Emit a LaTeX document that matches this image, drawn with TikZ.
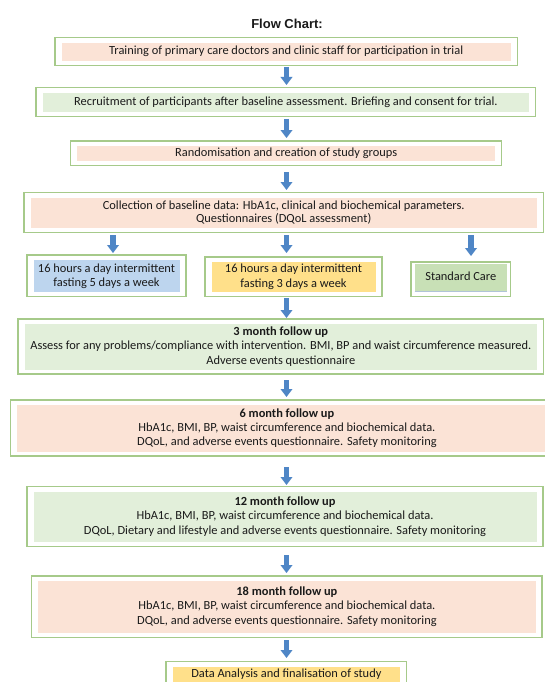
\documentclass[tikz,border=0pt]{standalone}
\usepackage{fontspec}
\setmainfont{Carlito}
\newfontfamily\titlefont{Liberation Sans}
\usetikzlibrary{arrows.meta}
\definecolor{outl}{HTML}{A6CA8A}
\definecolor{salmon}{HTML}{FBE3D6}
\definecolor{greenf}{HTML}{E2EFDA}
\definecolor{bluef}{HTML}{BDD5EE}
\definecolor{yellowf}{HTML}{FFE08A}
\definecolor{greenf2}{HTML}{C8E0B6}
\definecolor{arrowc}{HTML}{4F86C6}
\definecolor{txt}{HTML}{1A1A1A}
\tikzset{
  box/.style={draw=outl, line width=1.3pt, fill=white, inner sep=0pt, outer sep=0pt,
    align=center, text=txt, font=\fontsize{12.4}{14.2}\selectfont},
  inset/.style={path picture={\fill[#1] ([shift={(6.5pt,-5pt)}]path picture bounding box.north west) rectangle ([shift={(-6.5pt,4.5pt)}]path picture bounding box.south east);}},
  barrow/.style={draw=arrowc, line width=5.5pt, -{Triangle[width=11.5pt,length=8pt,fill=arrowc]}},
}
\begin{document}
\begin{tikzpicture}[x=1pt,y=-1pt]
\useasboundingbox (0,0) rectangle (544,682);
\fill[white] (0,0) rectangle (544,682);
\node[font=\titlefont\bfseries\fontsize{13}{15}\selectfont, text=txt] (title) at (287,24) {Flow Chart:};

\node[box, inset=salmon, minimum width=462.3pt, minimum height=28pt] (b1) at (286.2,51.7)
  {Training of primary care doctors and clinic staff for participation in trial};
\node[box, inset=greenf, minimum width=499.7pt, minimum height=29pt] (b2) at (285.9,102.2)
  {Recruitment of participants after baseline assessment. Briefing and consent for trial.};
\node[box, inset=salmon, minimum width=431pt, minimum height=24.7pt] (b3) at (286.2,153.4)
  {Randomisation and creation of study groups};
\node[box, inset=salmon, minimum width=519.3pt, minimum height=40pt, font=\fontsize{12.4}{13.5}\selectfont] (b4) at (283.7,212.7)
  {Collection of baseline data: HbA1c, clinical and biochemical parameters.\\ Questionnaires (DQoL assessment)};
\node[box, inset=bluef, minimum width=159pt, minimum height=41.7pt] (b5a) at (106.5,275.9)
  {16 hours a day intermittent\\ fasting 5 days a week};
\node[box, inset=yellowf, minimum width=177pt, minimum height=39.5pt] (b5b) at (293.5,276.8)
  {16 hours a day intermittent\\ fasting 3 days a week};
\node[box, minimum width=99.5pt, minimum height=34.5pt, text depth=6pt,
  path picture={\fill[greenf2] ([shift={(3.5pt,-1.5pt)}]path picture bounding box.north west) rectangle ([shift={(-3.5pt,4.5pt)}]path picture bounding box.south east);
  \draw[line width=0.8pt, color=bluef!80!gray] ([shift={(3.5pt,4.8pt)}]path picture bounding box.south west) -- ([shift={(-3.5pt,4.8pt)}]path picture bounding box.south east);}] (b5c) at (460.8,279.3)
  {Standard Care};
\node[box, inset=greenf, minimum width=525.5pt, minimum height=55pt] (b6) at (280.8,346.5)
  {\textbf{3 month follow up}\\ Assess for any problems/compliance with intervention. BMI, BP and waist circumference measured.\\ Adverse events questionnaire};
\node[box, inset=salmon, minimum width=552.3pt, minimum height=56pt] (b7) at (286.9,428)
  {\textbf{6 month follow up}\\ HbA1c, BMI, BP, waist circumference and biochemical data.\\ DQoL, and adverse events questionnaire. Safety monitoring};
\node[box, inset=greenf, minimum width=516pt, minimum height=60pt] (b8) at (285,516.7)
  {\textbf{12 month follow up}\\ HbA1c, BMI, BP, waist circumference and biochemical data.\\ DQoL, Dietary and lifestyle and adverse events questionnaire. Safety monitoring};
\node[box, inset=salmon, minimum width=510.3pt, minimum height=61.3pt] (b9) at (286.9,606.7)
  {\textbf{18 month follow up}\\ HbA1c, BMI, BP, waist circumference and biochemical data.\\ DQoL, and adverse events questionnaire. Safety monitoring};
\node[box, inset=yellowf, minimum width=240.7pt, minimum height=25pt] (b10) at (286.4,674.2)
  {Data Analysis and finalisation of study};

\coordinate (xc) at (286.5,0);
\coordinate (xl) at (113,0);
\coordinate (xr) at (471,0);
\draw[barrow, shorten <=1.3pt, shorten >=2.7pt] (b1.south -| xc) -- (b2.north -| xc);
\draw[barrow, shorten <=2.3pt, shorten >=3pt] (b2.south -| xc) -- (b3.north -| xc);
\draw[barrow, shorten <=6.3pt, shorten >=2.7pt] (b3.south -| xc) -- (b4.north -| xc);
\draw[barrow, shorten <=2.3pt, shorten >=2pt] (b4.south -| xl) -- (b5a.north -| xl);
\draw[barrow, shorten <=2.3pt, shorten >=4pt] (b4.south -| xc) -- (b5b.north -| xc);
\draw[barrow, shorten <=2.3pt, shorten >=6pt] (b4.south -| xr) -- (b5c.north -| xr);
\draw[barrow, shorten <=1.5pt, shorten >=1pt] (b5b.south -| xc) -- (b6.north -| xc);
\draw[barrow, shorten <=6pt, shorten >=3pt] (b6.south -| xc) -- (b7.north -| xc);
\draw[barrow, shorten <=11pt, shorten >=1.7pt] (b7.south -| xc) -- (b8.north -| xc);
\draw[barrow, shorten <=8.3pt, shorten >=3pt] (b8.south -| xc) -- (b9.north -| xc);
\draw[barrow, shorten <=2.7pt, shorten >=3.7pt] (b9.south -| xc) -- (b10.north -| xc);
\end{tikzpicture}
\end{document}
